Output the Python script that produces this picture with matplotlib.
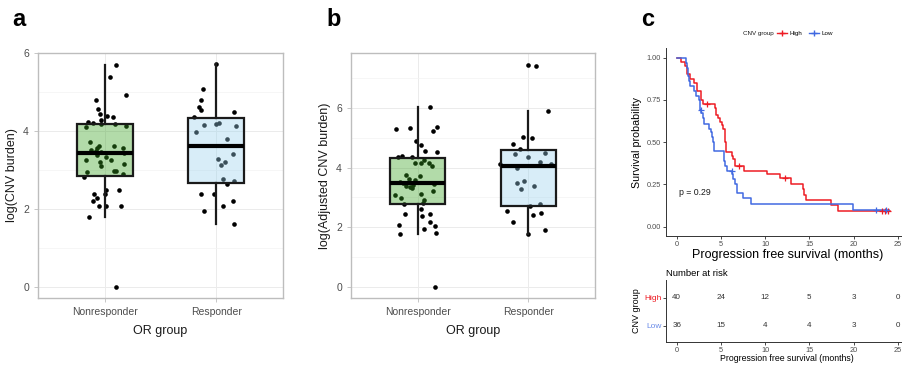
import numpy as np
import matplotlib
matplotlib.use('Agg')
import matplotlib.pyplot as plt
from matplotlib.lines import Line2D

plt.rcParams['font.family'] = ['Liberation Sans', 'DejaVu Sans']

# ---- data ----
groups = ['Nonresponder', 'Responder']

# panel a: log(CNV burden), with horizontal jitter offsets
a_nonresp = [5.69, 5.39, 4.91, 4.80, 4.57, 4.43, 4.38, 4.36, 4.27, 4.23, 4.21, 4.19, 4.18, 4.09, 4.13,
             3.71, 3.61, 3.56, 3.61, 3.56, 3.50, 3.48, 3.45, 3.44, 3.37, 3.33, 3.25, 3.21, 3.25, 3.09,
             3.14, 2.98, 2.98, 2.94, 2.89, 2.82, 2.48, 2.48, 2.39, 2.39, 2.29, 2.20, 2.08, 2.08, 2.08,
             1.79, 0.00]
a_nonresp_jit = [.10, .05, .19, -.08, -.06, -.04, .02, .07, -.03, -.15, -.11, .09, -.03, -.17, .19,
                 -.13, -.05, -.07, .08, .16, -.12, -.08, -.03, .17, -.07, .01, -.17, -.04, .06, -.03,
                 .17, .08, .10, -.16, .16, -.19, .01, .13, -.10, 0, -.07, -.11, -.05, .01, .15,
                 -.14, .10]
a_resp = [5.72, 5.08, 4.80, 4.62, 4.53, 4.48, 4.36, 4.15, 4.19, 4.21, 4.13, 3.98, 3.80, 3.42, 3.29,
          3.21, 3.13, 2.76, 2.64, 2.71, 2.39, 2.39, 2.20, 1.95, 2.07, 1.60]
a_resp_jit = [0, -.12, -.14, -.15, -.14, .16, -.20, -.11, 0, .03, .18, -.18, .10, .15, .02,
              .08, .04, .06, .10, .16, -.14, -.02, .15, -.11, .06, .16]

# panel b: log(Adjusted CNV burden)
b_nonresp = [6.03, 5.28, 5.31, 5.36, 5.21, 4.89, 4.76, 4.54, 4.52, 4.35, 4.40, 4.34, 4.15, 4.15, 4.27,
             4.17, 4.06, 3.76, 3.71, 3.53, 3.49, 3.57, 3.38, 3.35, 3.33, 3.44, 3.07, 2.97, 3.12, 3.23,
             2.93, 2.77, 2.82, 2.60, 2.45, 2.38, 2.46, 2.06, 2.18, 1.94, 2.05, 1.78, 1.80, 0.00, 3.40,
             3.48, 3.62]
b_nonresp_jit = [.11, -.19, -.07, .18, .14, -.01, .03, .07, .18, -.18, -.14, -.05, -.02, .03, .06,
                 .10, .13, -.10, .02, -.16, -.13, -.02, -.10, -.07, -.05, .15, -.20, -.15, .03, .14,
                 .06, -.12, .05, .03, -.11, .04, .11, -.17, .11, .06, .16, -.16, .17, .16, -.04,
                 -.11, -.08]
b_resp = [7.43, 7.41, 5.89, 5.04, 4.99, 4.78, 4.61, 4.46, 4.49, 4.36, 4.19, 4.12, 4.11, 3.97, 3.47,
          3.54, 3.27, 3.39, 2.70, 2.77, 2.54, 2.41, 2.47, 2.19, 1.92, 1.77]
b_resp_jit = [0, .07, .18, -.05, .03, -.14, -.08, -.12, .15, 0, .10, -.26, .20, -.10, -.10,
              -.04, -.07, .05, .01, .10, -.19, .04, .11, -.14, .15, 0]

# panel c: Kaplan-Meier steps (time in months, survival probability)
high_t = [0, 0.5, 0.95, 1.2, 1.5, 1.9, 2.3, 2.7, 3.0, 4.37, 4.49, 4.71, 4.90, 5.09, 5.28, 5.47, 5.60,
          6.30, 6.41, 6.60, 7.62, 10.18, 11.69, 12.90, 14.25, 14.40, 14.63, 17.42, 18.29, 24.13]
high_s = [1.0, 0.975, 0.95, 0.90, 0.875, 0.85, 0.80, 0.75, 0.725, 0.70, 0.66, 0.64, 0.62, 0.60, 0.575,
          0.50, 0.444, 0.42, 0.40, 0.36, 0.33, 0.31, 0.285, 0.255, 0.22, 0.19, 0.16, 0.128, 0.095, 0.095]
high_cens_t = [3.4, 7.0, 12.3, 23.2, 23.6, 23.9]
high_cens_s = [0.725, 0.36, 0.285, 0.095, 0.095, 0.095]

low_t = [0, 1.06, 1.2, 1.3, 1.4, 1.5, 2.0, 2.2, 2.5, 2.65, 2.8, 2.95, 3.1, 3.7, 3.85, 4.0, 4.1, 4.2,
         5.3, 5.4, 5.5, 5.65, 6.3, 6.4, 6.55, 6.8, 7.45, 8.4, 19.9, 24.0]
low_s = [1.0, 0.97, 0.94, 0.89, 0.86, 0.83, 0.80, 0.775, 0.75, 0.69, 0.67, 0.64, 0.61, 0.58, 0.56,
         0.53, 0.50, 0.45, 0.42, 0.39, 0.36, 0.33, 0.31, 0.28, 0.25, 0.20, 0.17, 0.134, 0.099, 0.099]
low_cens_t = [2.7, 6.26, 22.5, 23.7]
low_cens_s = [0.69, 0.33, 0.099, 0.099]

risk_times = [0, 5, 10, 15, 20, 25]
risk_high = [40, 24, 12, 5, 3, 0]
risk_low = [36, 15, 4, 4, 3, 0]
p_text = 'p = 0.29'

# ---- styling ----
green = (0.21, 0.63, 0.12, 0.38)
blue = (0.60, 0.82, 0.93, 0.38)
red_c = '#EE1C24'
blue_c = '#4169E1'
grey_txt = '#4D4D4D'

fig = plt.figure(figsize=(9.02, 3.70), dpi=100)


def box_panel(rect, d1, j1, d2, j2, ylabel, ylim, minor):
    ax = fig.add_axes(rect)
    for i, (d, j) in enumerate([(d1, j1), (d2, j2)]):
        ax.scatter(np.array(j) + i + 1, d, s=11, color='black', zorder=2, linewidths=0)
    bp = ax.boxplot([d1, d2], positions=[1, 2], widths=0.5, patch_artist=True,
                    showfliers=False, showcaps=False, whis=1.5,
                    boxprops=dict(edgecolor='#1A1A1A', linewidth=1.6),
                    medianprops=dict(color='black', linewidth=3),
                    whiskerprops=dict(color='#1A1A1A', linewidth=1.6), zorder=3)
    for patch, fc in zip(bp['boxes'], [green, blue]):
        patch.set_facecolor(fc)
    ax.set_xlim(0.4, 2.6)
    ax.set_ylim(*ylim)
    ax.set_xticks([1, 2])
    ax.set_xticklabels(groups)
    ax.set_yticks([0, 2, 4, 6])
    ax.set_yticks(minor, minor=True)
    ax.grid(True, which='major', color='#EBEBEB', linewidth=0.7, zorder=0)
    ax.grid(True, which='minor', axis='y', color='#F3F3F3', linewidth=0.5, zorder=0)
    ax.set_axisbelow(True)
    for sp in ax.spines.values():
        sp.set_color('#BDBDBD')
        sp.set_linewidth(1.0)
    ax.tick_params(axis='both', which='major', labelsize=7.5, labelcolor=grey_txt,
                   color='#BDBDBD', length=3, width=0.6)
    ax.tick_params(axis='y', which='minor', length=0)
    ax.set_xlabel('OR group', fontsize=9, color='#1A1A1A', labelpad=6)
    ax.set_ylabel(ylabel, fontsize=9, color='#1A1A1A', labelpad=4)
    return ax


box_panel([0.0421, 0.1946, 0.2716, 0.6622], a_nonresp, a_nonresp_jit, a_resp, a_resp_jit,
          'log(CNV burden)', (-0.286, 6.0), [1, 3, 5])
box_panel([0.3891, 0.1946, 0.2705, 0.6622], b_nonresp, b_nonresp_jit, b_resp, b_resp_jit,
          'log(Adjusted CNV burden)', (-0.37, 7.84), [1, 3, 5, 7])

# ---- Kaplan-Meier panel ----
km = fig.add_axes([0.738, 0.3622, 0.2695, 0.5073])
km.step(high_t, high_s, where='post', color=red_c, linewidth=1.1)
km.step(low_t, low_s, where='post', color=blue_c, linewidth=1.1)
km.plot(high_cens_t, high_cens_s, '+', color=red_c, markersize=5, markeredgewidth=0.9)
km.plot(low_cens_t, low_cens_s, '+', color=blue_c, markersize=5, markeredgewidth=0.9)
km.text(0.3, 0.2, p_text, fontsize=6.3, color='#1A1A1A', va='center')
km.set_xlim(-1.25, 26.25)
km.set_ylim(-0.055, 1.055)
km.set_xticks(risk_times)
km.set_yticks([0, 0.25, 0.5, 0.75, 1.0])
km.set_yticklabels(['0.00', '0.25', '0.50', '0.75', '1.00'])
for s in ['top', 'right']:
    km.spines[s].set_visible(False)
for s in ['left', 'bottom']:
    km.spines[s].set_linewidth(0.7)
    km.spines[s].set_color('#333333')
km.tick_params(labelsize=5.3, labelcolor=grey_txt, length=2, width=0.5, pad=1.5)
km.set_ylabel('Survival probability', fontsize=7.7, labelpad=3)
km.set_xlabel('Progression free survival (months)', fontsize=9, labelpad=1)

# legend above the KM plot
fig.text(743 / 902, 1 - 33 / 370, 'CNV group', fontsize=4.5, color='#1A1A1A', va='center')
handles = [Line2D([], [], color=red_c, marker='+', lw=1, markersize=4),
           Line2D([], [], color=blue_c, marker='+', lw=1, markersize=4)]
fig.legend(handles, ['High', 'Low'], loc='center left', bbox_to_anchor=(774 / 902, 1 - 33 / 370),
           ncol=2, frameon=False, fontsize=4.5, handlelength=1.6, handletextpad=0.4,
           columnspacing=1.0, borderpad=0)

# ---- risk table ----
rt = fig.add_axes([0.738, 0.0765, 0.2695, 0.1668])
for x, h, l in zip(risk_times, risk_high, risk_low):
    rt.text(x, 1, str(h), ha='center', va='center', fontsize=5.8, color='#333333')
    rt.text(x, 0, str(l), ha='center', va='center', fontsize=5.8, color='#333333')
rt.set_xlim(-1.25, 26.25)
rt.set_ylim(-0.57, 1.63)
rt.set_xticks(risk_times)
rt.set_yticks([0, 1])
rt.set_yticklabels(['Low', 'High'])
rt.get_yticklabels()[0].set_color('#6A8BE8')
rt.get_yticklabels()[1].set_color(red_c)
for s in ['top', 'right']:
    rt.spines[s].set_visible(False)
for s in ['left', 'bottom']:
    rt.spines[s].set_linewidth(0.7)
    rt.spines[s].set_color('#333333')
rt.tick_params(axis='x', labelsize=5.3, labelcolor=grey_txt, length=2, width=0.5, pad=1.5)
rt.tick_params(axis='y', labelsize=6, length=2, width=0.5, pad=1)
rt.set_title('Number at risk', loc='left', fontsize=6.8, pad=3)
rt.set_xlabel('Progression free survival (months)', fontsize=6.3, labelpad=0.5)
rt.set_ylabel('CNV group', fontsize=6.5, labelpad=2)

# panel letters
for x, lab in [(12, 'a'), (326, 'b'), (641, 'c')]:
    fig.text(x / 902, 1 - 26 / 370, lab, fontsize=17, fontweight='bold', va='baseline')

fig.savefig('out.png', dpi=100)
